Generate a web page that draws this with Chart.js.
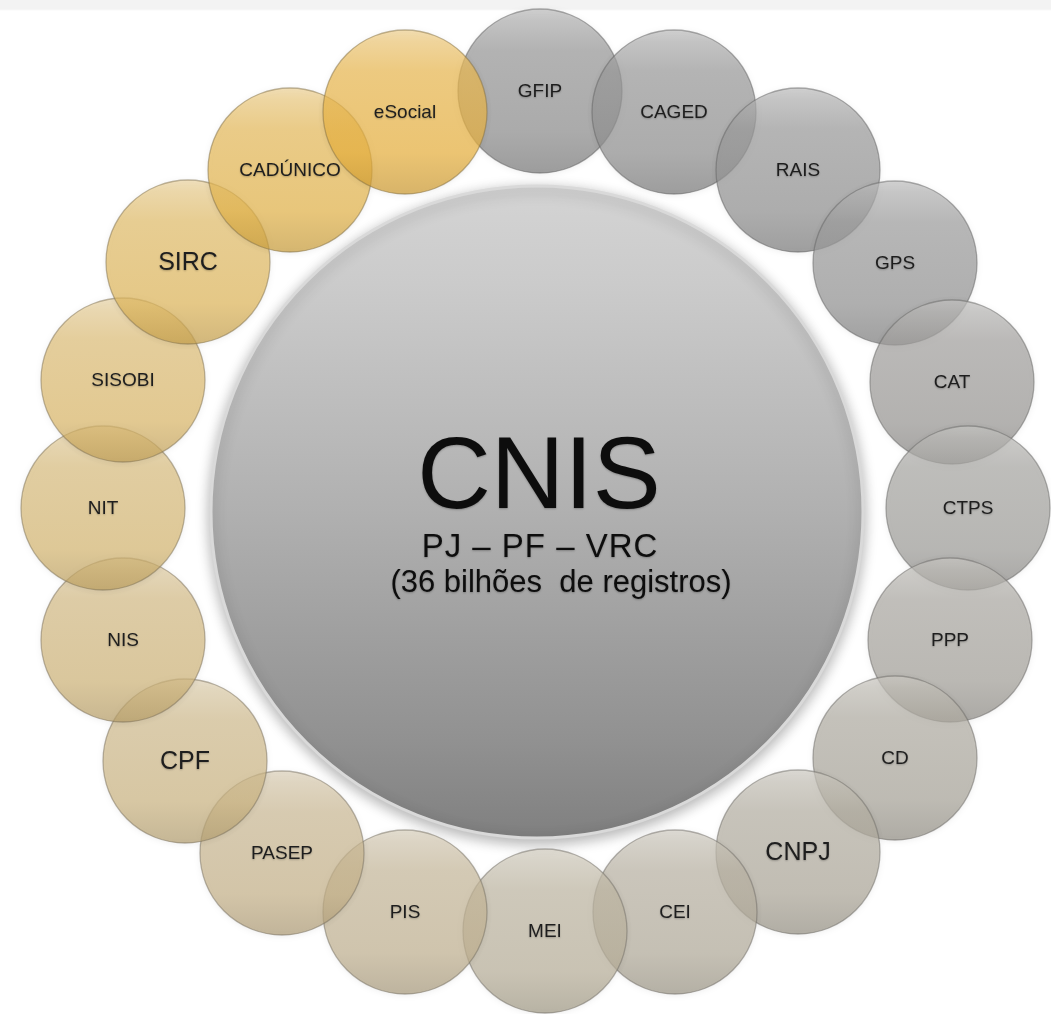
<!DOCTYPE html>
<html lang="pt">
<head>
<meta charset="utf-8">
<title>CNIS</title>
<script src="https://cdn.jsdelivr.net/npm/chart.js@4.4.1/dist/chart.umd.min.js"></script>
<style>
  html, body { margin: 0; padding: 0; overflow: hidden; }
  body { background: linear-gradient(#f3f3f3 0, #f3f3f3 9px, #ffffff 11px); }
  #wrap { width: 1051px; height: 1014px; }
</style>
</head>
<body>
<div id="wrap"><canvas id="cnis" width="1051" height="1014"></canvas></div>
<script>
// bases ligadas ao CNIS, sentido horario a partir do topo
const nodeLabels = ['GFIP', 'CAGED', 'RAIS', 'GPS', 'CAT', 'CTPS', 'PPP', 'CD', 'CNPJ', 'CEI',
                    'MEI', 'PIS', 'PASEP', 'CPF', 'NIS', 'NIT', 'SISOBI', 'SIRC', 'CADÚNICO', 'eSocial'];
const nodeX = [0.4, 13.8, 26.2, 35.9, 41.6, 43.2, 41.4, 35.9, 26.2, 13.9,
               0.9, -13.1, -25.4, -35.1, -41.3, -43.3, -41.3, -34.8, -24.6, -13.1];
const nodeY = [42.0, 39.9, 34.1, 24.8, 12.9, 0.3, -12.9, -24.7, -34.1, -40.1,
               -42.0, -40.1, -34.2, -25.0, -12.9, 0.3, 13.1, 24.9, 34.1, 39.9];

// circulo central
const hubX = [0.1];
const hubY = [-0.1];
const hubTitle = 'CNIS';
const hubLines = ['PJ – PF – VRC', '(36 bilhões  de registros)'];

// estilo
const bigNodes = ['SIRC', 'CPF', 'CNPJ'];
const nodeColors = ['#b0b0b0', '#b1b1b1', '#b2b2b2', '#b4b4b4', '#b8b7b5', '#bcbbb8', '#bfbdb8', '#c3c0b8', '#c6c2b8', '#cac5b9',
                    '#cec8b8', '#d4c9b2', '#d8caad', '#dccca8', '#dfcca2', '#e3cd9c', '#e7ce97', '#eacd8c', '#edcb80', '#f0c978'];
const FONT = "'Liberation Sans', Arial, sans-serif";
const RING_R = 82;
const HUB_R = 326;
const ALPHA = 0.7;

function hexRgb(h) {
  const n = parseInt(h.slice(1), 16);
  return [(n >> 16) & 255, (n >> 8) & 255, n & 255];
}
function mix(rgb, t, to) {
  return rgb.map((v, k) => v + (to[k] - v) * t);
}
// cor que, com ALPHA sobre branco, aparece como rgb
function over(rgb) {
  const c = rgb.map(v => Math.max(0, Math.min(255, Math.round((v - (1 - ALPHA) * 255) / ALPHA))));
  return `rgba(${c[0]},${c[1]},${c[2]},${ALPHA})`;
}
const WHITE = [255, 255, 255], BLACK = [0, 0, 0];

function ringFill(ctx) {
  const i = ctx.dataIndex;
  if (ctx.type !== 'data' || i === undefined) return 'rgba(0,0,0,0)';
  const base = hexRgb(nodeColors[i]);
  const py = ctx.chart.scales.y ? ctx.chart.scales.y.getPixelForValue(nodeY[i]) : NaN;
  if (!Number.isFinite(py)) return over(base);
  const g = ctx.chart.ctx.createLinearGradient(0, py - RING_R, 0, py + RING_R);
  g.addColorStop(0, over(mix(base, 0.45, WHITE)));
  g.addColorStop(0.07, over(mix(base, 0.3, WHITE)));
  g.addColorStop(0.25, over(mix(base, 0.1, WHITE)));
  g.addColorStop(0.75, over(base));
  g.addColorStop(1, over(mix(base, 0.08, BLACK)));
  return g;
}
function ringEdge(ctx) {
  const i = ctx.dataIndex;
  if (ctx.type !== 'data' || i === undefined) return 'rgba(0,0,0,0.4)';
  const c = mix(hexRgb(nodeColors[i]), 0.45, BLACK).map(Math.round);
  return `rgba(${c[0]},${c[1]},${c[2]},0.5)`;
}
function hubFill(ctx) {
  const py = ctx.chart.scales.y ? ctx.chart.scales.y.getPixelForValue(hubY[0]) : NaN;
  if (!Number.isFinite(py)) return '#acacac';
  const g = ctx.chart.ctx.createLinearGradient(0, py - HUB_R, 0, py + HUB_R);
  g.addColorStop(0, '#d4d4d4');
  g.addColorStop(0.15, '#cbcbcb');
  g.addColorStop(0.5, '#b0b0b0');
  g.addColorStop(0.85, '#919191');
  g.addColorStop(1, '#808080');
  return g;
}

const shadowPlugin = {
  id: 'softShadow',
  beforeDatasetDraw(chart, args) {
    const c = chart.ctx;
    c.save();
    if (args.index === 1) {
      c.shadowColor = 'rgba(0,0,0,0.3)'; c.shadowBlur = 14; c.shadowOffsetY = 4;
    } else {
      c.shadowColor = 'rgba(0,0,0,0.1)'; c.shadowBlur = 6; c.shadowOffsetY = 1;
    }
  },
  afterDatasetDraw(chart) {
    chart.ctx.restore();
  }
};

const textPlugin = {
  id: 'cnisText',
  afterDatasetsDraw(chart) {
    const c = chart.ctx;
    c.save();
    c.textAlign = 'center';
    c.textBaseline = 'middle';
    c.fillStyle = '#1e1e1e';
    c.shadowColor = 'rgba(0,0,0,0.25)';
    c.shadowBlur = 2;
    c.shadowOffsetY = 1;
    chart.getDatasetMeta(0).data.forEach((el, i) => {
      const big = bigNodes.includes(nodeLabels[i]);
      c.font = (big ? 25 : 19) + 'px ' + FONT;
      c.fillText(nodeLabels[i], el.x, el.y + 1);
    });
    const hub = chart.getDatasetMeta(1).data[0];
    c.textBaseline = 'alphabetic';
    c.fillStyle = '#0d0d0d';
    c.font = '102px ' + FONT;
    c.fillText(hubTitle, hub.x + 2, hub.y - 4);
    c.font = '33px ' + FONT;
    c.letterSpacing = '1px';
    c.fillText(hubLines[0], hub.x + 3, hub.y + 45);
    c.letterSpacing = '0px';
    c.font = '31px ' + FONT;
    c.fillText(hubLines[1], hub.x + 24, hub.y + 80);
    c.restore();
  }
};

new Chart(document.getElementById('cnis'), {
  type: 'bubble',
  data: {
    datasets: [
      {
        label: 'Bases',
        data: nodeX.map((x, i) => ({ x: x, y: nodeY[i] })),
        radius: RING_R,
        backgroundColor: ringFill,
        borderColor: ringEdge,
        borderWidth: 1.3,
        order: 0,
        clip: false
      },
      {
        label: hubTitle,
        data: hubX.map((x, i) => ({ x: x, y: hubY[i] })),
        radius: HUB_R,
        backgroundColor: hubFill,
        borderColor: '#d9d9d9',
        borderWidth: 3,
        order: 1,
        clip: false
      }
    ]
  },
  options: {
    responsive: false,
    animation: false,
    events: [],
    layout: { padding: 0, autoPadding: false },
    plugins: { legend: { display: false }, tooltip: { enabled: false } },
    scales: {
      x: { type: 'linear', min: -53.6, max: 51.5, display: false },
      y: { type: 'linear', min: -50.3, max: 51.1, display: false }
    }
  },
  plugins: [shadowPlugin, textPlugin]
});
</script>
</body>
</html>
